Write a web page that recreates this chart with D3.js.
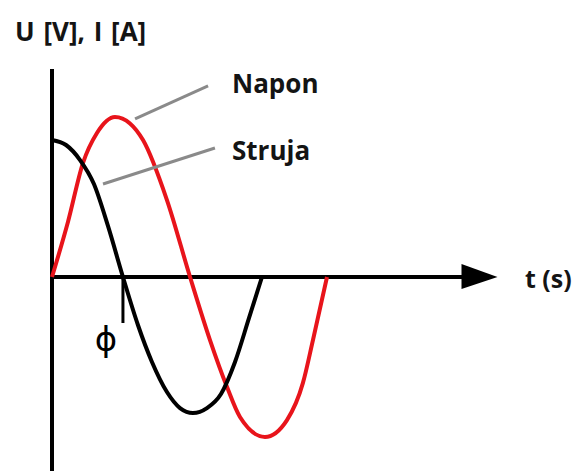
<!DOCTYPE html>
<html lang = "en">
    <head>
        <meta charset = "UTF-8">
        <title>Napon i struja</title>
        <script src = "https://cdn.jsdelivr.net/npm/d3@7/dist/d3.min.js"></script>
        <style>
            body { margin: 0; background: #fff; }
            .label {
                font-family: "Open Sans", sans-serif;
                font-weight: 700;
                fill: #141414;
            }
        </style>
    </head>
    <body>
        <div id = "chart"></div>

        <script>
            // time in ms, values normalised to the voltage peak
            var naponT = [0, 1.16, 2.25, 3.27, 4.58, 5.67, 6.62, 8.36, 10.04, 11.49, 12.73, 13.67, 15.49, 17.09, 18.25, 18.98, 20.0];
            var naponV = [0, 0.344, 0.712, 0.9, 1.0, 0.96, 0.856, 0.481, 0, -0.394, -0.688, -0.875, -1.0, -0.894, -0.662, -0.394, 0];

            var strujaT = [0, 1.02, 2.04, 3.05, 4.07, 5.16, 6.25, 7.27, 8.36, 9.31, 10.25, 11.27, 12.29, 13.31, 14.33, 15.27];
            var strujaV = [0.856, 0.825, 0.731, 0.581, 0.319, 0, -0.3, -0.531, -0.719, -0.819, -0.85, -0.819, -0.731, -0.531, -0.256, 0];

            var tMax = 32.4;          // end of time axis (arrow tip)
            var vTop = 1.3, vBottom = -1.22;
            var phiT = 5.16;          // current crosses zero here

            var width = 577, height = 471;

            var x = d3.scaleLinear().domain([0, 20]).range([52, 327]);
            var y = d3.scaleLinear().domain([-1, 1]).range([437, 117]);

            var svg = d3.select('#chart').append('svg')
                .attr('width', width).attr('height', height);

            var line = d3.line()
                .x(d => x(d[0])).y(d => y(d[1]))
                .curve(d3.curveMonotoneX);

            // axes
            svg.append('line')
                .attr('x1', x(0)).attr('x2', x(0))
                .attr('y1', y(vTop)).attr('y2', y(vBottom))
                .attr('stroke', '#000').attr('stroke-width', 4);

            svg.append('line')
                .attr('x1', x(0)).attr('x2', x(tMax) - 20)
                .attr('y1', y(0)).attr('y2', y(0))
                .attr('stroke', '#000').attr('stroke-width', 4);

            var tipX = x(tMax), tipY = y(0);
            svg.append('path')
                .attr('d', `M${tipX},${tipY} L${tipX - 36},${tipY - 13} L${tipX - 36},${tipY + 12} Z`)
                .attr('fill', '#000');

            // curves
            svg.append('path')
                .datum(naponT.map((t, i) => [t, naponV[i]]))
                .attr('d', line)
                .attr('fill', 'none').attr('stroke', '#e8141b').attr('stroke-width', 4)
                .attr('stroke-linejoin', 'round');

            svg.append('path')
                .datum(strujaT.map((t, i) => [t, strujaV[i]]))
                .attr('d', line)
                .attr('fill', 'none').attr('stroke', '#000').attr('stroke-width', 4)
                .attr('stroke-linejoin', 'round');

            // leader lines
            var leaders = [
                [[6.04, 0.988], [11.35, 1.194]],
                [[3.71, 0.581], [11.85, 0.806]]
            ];
            leaders.forEach(function (l) {
                svg.append('line')
                    .attr('x1', x(l[0][0])).attr('y1', y(l[0][1]))
                    .attr('x2', x(l[1][0])).attr('y2', y(l[1][1]))
                    .attr('stroke', '#8a8a8a').attr('stroke-width', 3);
            });

            // phase marker
            svg.append('line')
                .attr('x1', x(phiT)).attr('x2', x(phiT))
                .attr('y1', y(0)).attr('y2', y(0) + 46)
                .attr('stroke', '#000').attr('stroke-width', 3);

            svg.append('text')
                .attr('x', x(phiT) - 17).attr('y', y(0) + 74)
                .attr('text-anchor', 'middle')
                .attr('font-family', 'DejaVu Sans')
                .attr('font-size', '34px')
                .attr('fill', '#000')
                .text('\u03D5');

            // labels
            svg.append('text').attr('class', 'label')
                .attr('x', 232).attr('y', 93).attr('font-size', '26px').text('Napon');
            svg.append('text').attr('class', 'label')
                .attr('x', 232).attr('y', 160).attr('font-size', '26px').text('Struja');
            svg.append('text').attr('class', 'label')
                .attr('x', 15).attr('y', 41).attr('font-size', '26px')
                .attr('word-spacing', '2px').text('U [V], I [A]');
            svg.append('text').attr('class', 'label')
                .attr('x', 525).attr('y', 288).attr('font-size', '25px').text('t (s)');
        </script>
    </body>
</html>
